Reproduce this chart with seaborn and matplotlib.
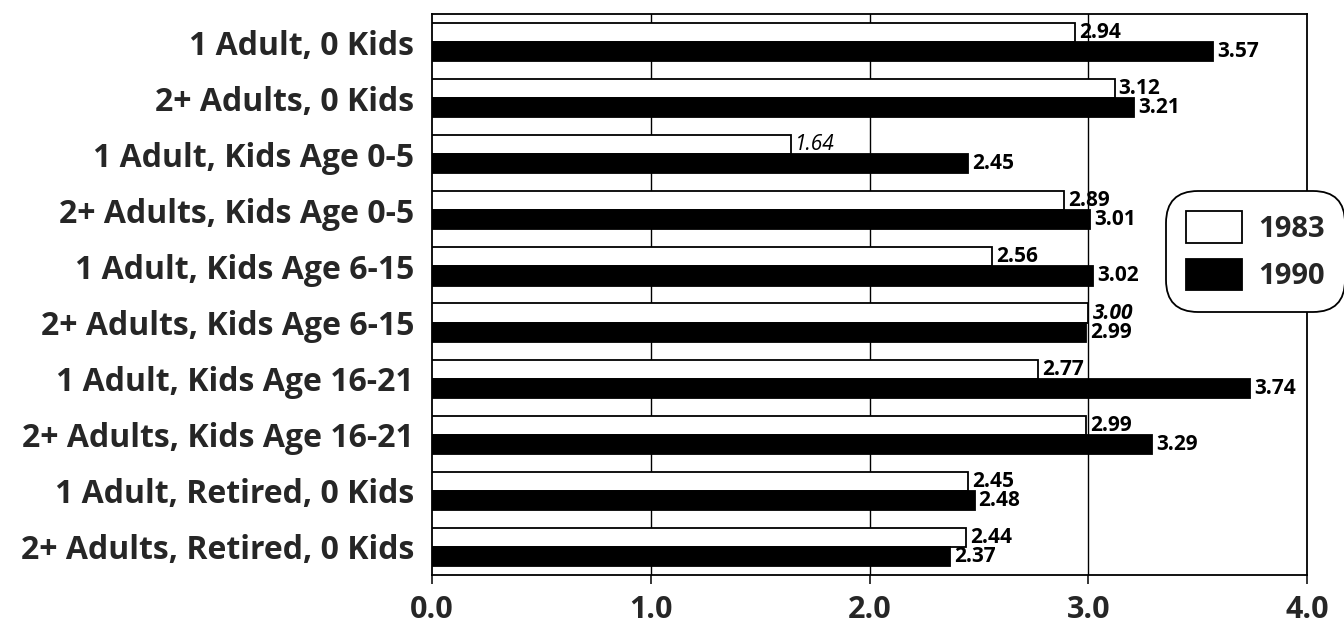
import matplotlib
matplotlib.use("Agg")
import matplotlib.pyplot as plt
import seaborn as sns
import pandas as pd

households = [
    "1 Adult, 0 Kids",
    "2+ Adults, 0 Kids",
    "1 Adult, Kids Age 0-5",
    "2+ Adults, Kids Age 0-5",
    "1 Adult, Kids Age 6-15",
    "2+ Adults, Kids Age 6-15",
    "1 Adult, Kids Age 16-21",
    "2+ Adults, Kids Age 16-21",
    "1 Adult, Retired, 0 Kids",
    "2+ Adults, Retired, 0 Kids",
]
years = ["1983", "1990"]
values_1983 = [2.94, 3.12, 1.64, 2.89, 2.56, 3.00, 2.77, 2.99, 2.45, 2.44]
values_1990 = [3.57, 3.21, 2.45, 3.01, 3.02, 2.99, 3.74, 3.29, 2.48, 2.37]
x_ticks = [0.0, 1.0, 2.0, 3.0, 4.0]

df = pd.DataFrame({
    "household": households * 2,
    "year": [years[0]] * len(households) + [years[1]] * len(households),
    "value": values_1983 + values_1990,
})

sns.set_theme(style="white")
plt.rcParams["font.family"] = ["Open Sans", "DejaVu Sans"]

fig = plt.figure(figsize=(13.44, 6.24), dpi=100)
ax = fig.add_axes([432 / 1344, 1 - 575 / 624, (1307 - 432) / 1344, (575 - 14) / 624])

sns.barplot(
    data=df, y="household", x="value", hue="year", order=households,
    hue_order=years, palette={"1983": "white", "1990": "black"},
    edgecolor="black", linewidth=1.3, width=0.68, orient="h",
    ax=ax, zorder=3,
)

ax.set_xlim(0, 4)
ax.set_ylim(len(households) - 0.5, -0.5)
ax.set_xticks(x_ticks)
ax.set_xticklabels([f"{t:.1f}" for t in x_ticks], fontsize=22, fontweight="bold")
ax.set_yticklabels(households, fontsize=23, fontweight="bold")
ax.set_xlabel("")
ax.set_ylabel("")
ax.tick_params(axis="x", direction="out", length=6.5, width=1.1, color="black",
               pad=8, bottom=True)
ax.tick_params(axis="y", length=0, pad=13)

for side in ["top", "bottom", "left", "right"]:
    ax.spines[side].set_visible(True)
    ax.spines[side].set_color("black")
    ax.spines[side].set_linewidth(1.3)

for t in x_ticks[1:-1]:
    ax.axvline(t, color="black", linewidth=1.0, zorder=1)

value_texts = []
for cont in ax.containers:
    value_texts.append(ax.bar_label(cont, fmt="%.2f", padding=3, fontsize=15,
                                    fontweight="bold", color="black"))
# two of the 1983 figures are set in italics
for i in (2, 5):
    value_texts[0][i].set_fontstyle("italic")
value_texts[0][2].set_fontweight("normal")

handles, labels = ax.get_legend_handles_labels()
if ax.get_legend() is not None:
    ax.get_legend().remove()
leg = fig.legend(
    handles, labels, loc="upper left",
    bbox_to_anchor=(1166 / 1344, 1 - 191 / 624),
    frameon=True, fancybox=True,
    prop={"weight": "bold", "size": 21},
    handlelength=1.9, handleheight=1.3, labelspacing=0.5,
    handletextpad=0.55, borderpad=0.7, borderaxespad=0,
)
for txt in leg.get_texts():
    txt.set_fontweight("bold")
frame = leg.get_frame()
frame.set_edgecolor("black")
frame.set_linewidth(1.3)
frame.set_facecolor("white")
frame.set_alpha(1)
frame.set_boxstyle("round,pad=0,rounding_size=1.1")

fig.savefig("out.png", dpi=100)
